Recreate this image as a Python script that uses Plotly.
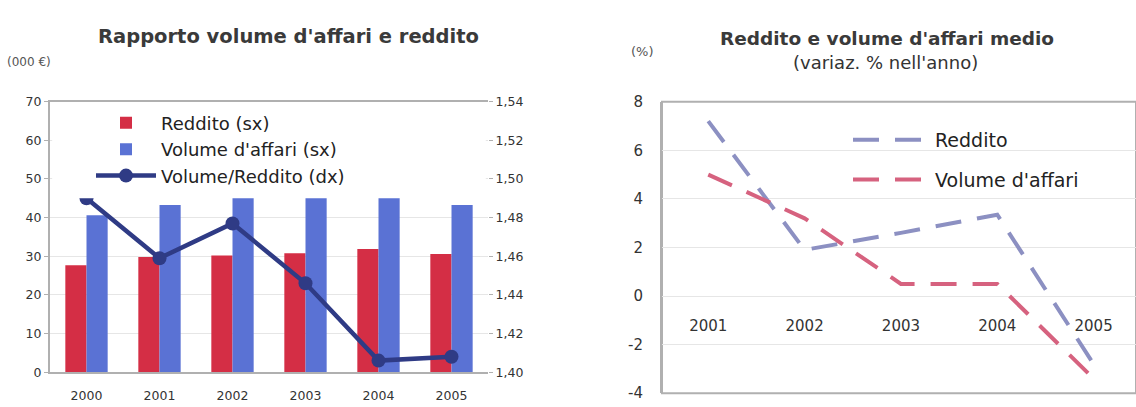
import plotly.graph_objects as go

# ---- data: left chart ----
years_left = ["2000", "2001", "2002", "2003", "2004", "2005"]
reddito = [27.7, 29.8, 30.2, 30.8, 31.9, 30.6]
volume_affari = [40.6, 43.3, 46.0, 47.0, 48.0, 43.3]
vol_red_ratio = [1.490, 1.459, 1.477, 1.446, 1.406, 1.408]
left_ticks = [0, 10, 20, 30, 40, 50, 60, 70]
right_ticks = [1.40, 1.42, 1.44, 1.46, 1.48, 1.50, 1.52, 1.54]

# ---- data: right chart ----
years_right = ["2001", "2002", "2003", "2004", "2005"]
var_reddito = [7.2, 1.9, 2.6, 3.35, -2.8]
var_volume = [5.0, 3.2, 0.5, 0.5, -3.4]
pct_ticks = [-4, -2, 0, 2, 4, 6, 8]
pct_labels = ["-4", "-2", "0", "2", "4", "6", "8"]

FONT = "DejaVu Sans"
GRID = "#e6e6e6"
FRAME = "#b0b0b0"

fig = go.Figure()

fig.add_trace(go.Bar(x=years_left, y=reddito, name="Reddito (sx)",
                     marker=dict(color="#d42e45", line=dict(width=0)),
                     xaxis="x", yaxis="y", legend="legend"))
fig.add_trace(go.Bar(x=years_left, y=volume_affari, name="Volume d'affari (sx)",
                     marker=dict(color="#5a72d4", line=dict(width=0)),
                     xaxis="x", yaxis="y", legend="legend"))
fig.add_trace(go.Scatter(x=years_left, y=vol_red_ratio, name="Volume/Reddito (dx)",
                         mode="lines+markers",
                         line=dict(color="#2f3b85", width=4.5),
                         marker=dict(size=14, color="#2f3b85"),
                         xaxis="x", yaxis="y2", legend="legend"))

fig.add_trace(go.Scatter(x=years_right, y=var_reddito, name="Reddito",
                         mode="lines", line=dict(color="#8c90c2", width=4, dash="26px,16px"),
                         xaxis="x3", yaxis="y3", legend="legend2", legendgroup="r"))
fig.add_trace(go.Scatter(x=years_right, y=var_volume, name="Volume d'affari",
                         mode="lines", line=dict(color="#d6627f", width=4, dash="26px,16px"),
                         xaxis="x3", yaxis="y3", legend="legend2", legendgroup="v"))

H = 407.0
W = 1136.0
ldom = [50 / W, 488 / W]
lyd = [1 - 380 / H, 1 - 97 / H]
rdom = [662 / W, 1.0]
ryd = [1 - 402 / H, 1 - 97 / H]
zero_pos = ryd[0] + (0 - (-4)) / 12 * (ryd[1] - ryd[0])

fig.update_layout(
    width=1136, height=407,
    margin=dict(l=0, r=0, t=0, b=0),
    paper_bgcolor="white", plot_bgcolor="white",
    separators=",.",
    font=dict(family=FONT, size=12, color="#333"),
    barmode="group", bargap=0.42, bargroupgap=0.0,
    xaxis=dict(domain=ldom, anchor="y", showgrid=False, showline=True, linecolor=FRAME,
               linewidth=2, mirror=True, ticks="outside", ticklen=11,
               tickcolor="rgba(0,0,0,0)", tickfont=dict(size=12.5), fixedrange=True),
    yaxis=dict(domain=lyd, anchor="x", range=[0, 70], tickvals=left_ticks,
               showgrid=True, gridcolor=GRID, showline=True, linecolor=FRAME, linewidth=2,
               ticks="outside", ticklen=4, tickcolor=FRAME, tickfont=dict(size=12.5),
               zeroline=False),
    yaxis2=dict(overlaying="y", side="right", anchor="x", range=[1.40, 1.54],
                tickvals=right_ticks, tickformat=".2f", showgrid=False,
                ticks="outside", ticklen=4, tickcolor=FRAME, tickfont=dict(size=12.5),
                zeroline=False),
    xaxis3=dict(domain=rdom, anchor="free", position=zero_pos, range=[-0.48, 4.44],
                showgrid=False, showline=False, ticks="outside", ticklen=16,
                tickcolor="rgba(0,0,0,0)", tickfont=dict(size=15)),
    yaxis3=dict(domain=ryd, anchor="x3", range=[-4, 8], tickvals=pct_ticks,
                ticktext=pct_labels,
                showgrid=True, gridcolor=GRID, showline=True, linecolor=FRAME, linewidth=2,
                ticks="outside", ticklen=14, tickcolor="rgba(0,0,0,0)",
                tickfont=dict(size=15), zeroline=False),
    legend=dict(x=91 / W, y=1 - 100 / H, xanchor="left", yanchor="top",
                bgcolor="rgba(255,255,255,0)", font=dict(size=18, color="#222"),
                itemwidth=60, tracegroupgap=0, traceorder="normal"),
    legend2=dict(x=848 / W, y=1 - 117 / H, xanchor="left", yanchor="top",
                 bgcolor="rgba(255,255,255,0)", font=dict(size=19, color="#222"),
                 itemwidth=77, tracegroupgap=12, traceorder="grouped"),
    showlegend=True,
)

# frame for right chart
fig.add_shape(type="rect", xref="x3 domain", yref="y3 domain", x0=0, x1=1, y0=0, y1=1,
              line=dict(color=FRAME, width=2), fillcolor="rgba(0,0,0,0)", layer="below")
# white band behind legend in left chart (as in reference)
fig.add_shape(type="rect", xref="x domain", yref="y domain", x0=0.005, x1=0.995,
              y0=(380 - 198) / (380 - 97), y1=0.985,
              line=dict(width=0), fillcolor="white", layer="above")

fig.add_annotation(text="<b>Rapporto volume d'affari e reddito</b>", xref="paper", yref="paper",
                   x=288 / W, y=1 - 29 / H, xanchor="center", yanchor="middle",
                   showarrow=False, font=dict(size=19.5, color="#3a3a3a"))
fig.add_annotation(text="(000 €)", xref="paper", yref="paper", x=5 / W, y=1 - 55 / H,
                   xanchor="left", yanchor="middle", showarrow=False,
                   font=dict(size=12, color="#555"))
fig.add_annotation(text="<b>Reddito e volume d'affari medio</b>", xref="paper", yref="paper",
                   x=887 / W, y=1 - 31 / H, xanchor="center", yanchor="middle",
                   showarrow=False, font=dict(size=18.5, color="#3a3a3a"))
fig.add_annotation(text="(variaz. % nell'anno)", xref="paper", yref="paper",
                   x=885 / W, y=1 - 56 / H, xanchor="center", yanchor="middle",
                   showarrow=False, font=dict(size=18, color="#333"))
fig.add_annotation(text="(%)", xref="paper", yref="paper", x=642 / W, y=1 - 44 / H,
                   xanchor="center", yanchor="middle", showarrow=False,
                   font=dict(size=13, color="#555"))

fig.write_html("out.html", config={"displayModeBar": False},
               post_script="document.body.style.margin='0px';"
               "document.body.style.overflow='hidden';")
